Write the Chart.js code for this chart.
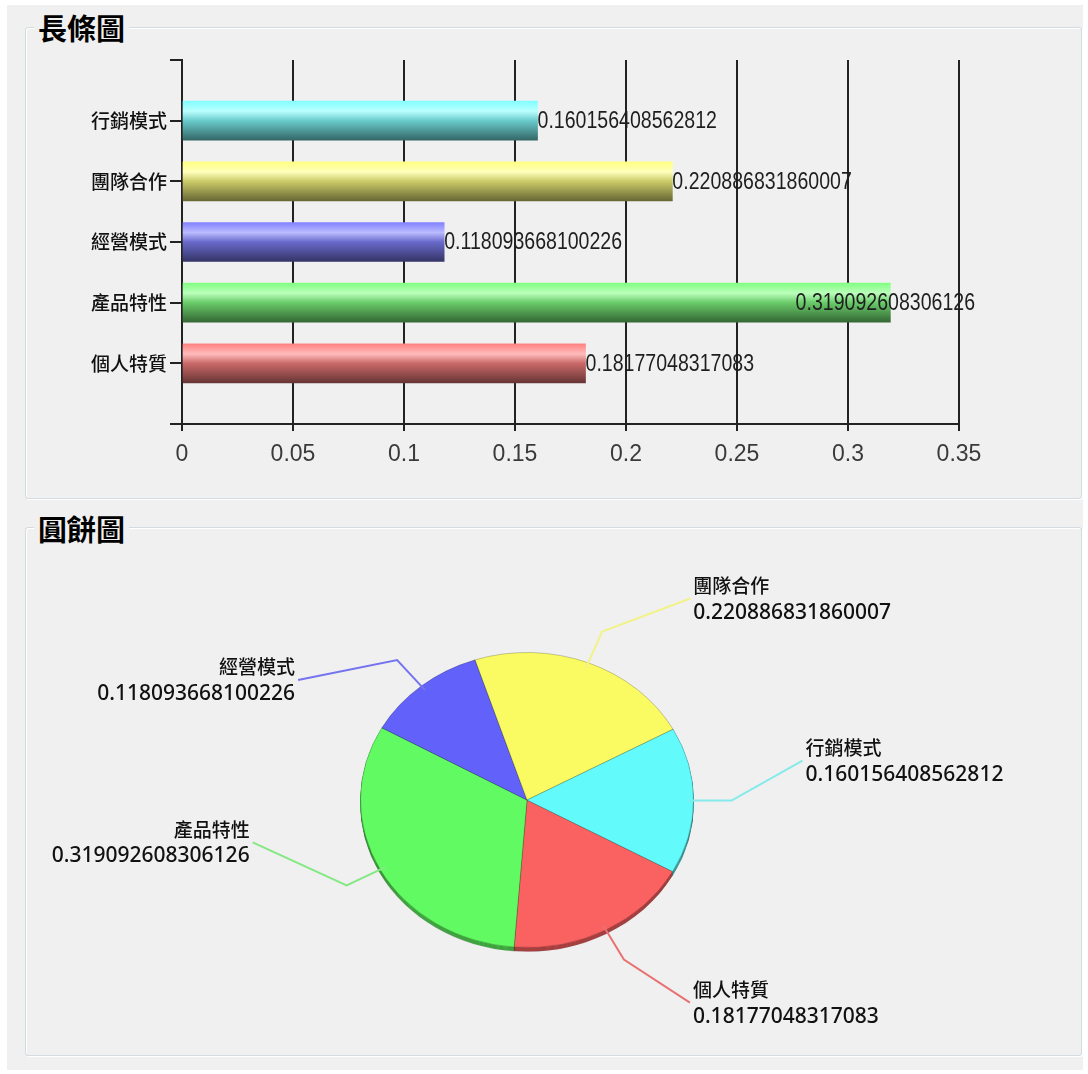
<!DOCTYPE html>
<html>
<head>
<meta charset="utf-8">
<script src="https://cdn.jsdelivr.net/npm/chart.js@4.4.1/dist/chart.umd.min.js"></script>
<style>
body { margin: 0; background: #fff; width: 1088px; height: 1074px; position: relative; overflow: hidden; }
#bg { position: absolute; left: 7px; top: 5px; width: 1076px; height: 1065px; background: #f0f0f0; }
.box { position: absolute; left: 25px; width: 1055px; border: 1px solid #d3dbe2; border-radius: 3px;
       box-shadow: inset 1px 1px 0 #fff, 1px 1px 0 #fff; }
#box1 { top: 27px; height: 470px; }
#box2 { top: 527px; height: 527px; }
.title { position: absolute; left: 34px; padding: 0 4px; background: #f0f0f0; color: #000;
         font: bold 29px/32px "Noto Sans CJK TC", sans-serif; }
canvas { position: absolute; left: 0; }
</style>
</head>
<body>
<div id="bg"></div>
<div class="box" id="box1"></div>
<div class="box" id="box2"></div>
<div class="title" style="top:11px">長條圖</div>
<div class="title" style="top:512px">圓餅圖</div>
<canvas id="barChart" width="1088" height="500" style="top:0"></canvas>
<canvas id="pieChart" width="1088" height="574" style="top:500px"></canvas>
<script>
// Data (bottom bar first)
const categories = ['個人特質', '產品特性', '經營模式', '團隊合作', '行銷模式'];
const values = [0.18177048317083, 0.319092608306126, 0.118093668100226, 0.220886831860007, 0.160156408562812];
const xTickLabels = ['0', '0.05', '0.1', '0.15', '0.2', '0.25', '0.3', '0.35'];

// Colours
const barTops = ['#ff8484', '#84ff84', '#8484ff', '#ffff84', '#84ffff'];
const barBottoms = ['#6a3636', '#366a36', '#36366a', '#6a6a36', '#366a6a'];
const pieColors = ['#fa6262', '#62fa62', '#6262fa', '#fafa62', '#62fafa'];
const leaderColors = ['#e87272', '#84e884', '#7474f0', '#f2f28a', '#84eaea'];

// blank slots above and below the bars
const yLabels = [''].concat(categories, ['']);
const barData = [null].concat(values, [null]);

function mix(a, b, t) {
    const pa = [1, 3, 5].map(i => parseInt(a.substr(i, 2), 16));
    const pb = [1, 3, 5].map(i => parseInt(b.substr(i, 2), 16));
    return 'rgb(' + pa.map((v, i) => Math.round(v + (pb[i] - v) * t)).join(',') + ')';
}

// Shaded bar fill
function barFill(context) {
    const chart = context.chart;
    const i = context.dataIndex - 1;
    if (i < 0 || i >= categories.length) return 'rgba(0,0,0,0)';
    const yScale = chart.scales.y;
    if (!yScale) return barTops[i];
    const c = yScale.getPixelForValue(context.dataIndex);
    const g = chart.ctx.createLinearGradient(0, c - 19, 0, c + 19);
    g.addColorStop(0, barTops[i]);
    g.addColorStop(0.25, mix(barTops[i], '#ffffff', 0.45));
    g.addColorStop(0.5, mix(barTops[i], barBottoms[i], 0.35));
    g.addColorStop(1, barBottoms[i]);
    return g;
}

const barValueLabels = {
    id: 'barValueLabels',
    afterDatasetsDraw(chart) {
        const { ctx, chartArea } = chart;
        const meta = chart.getDatasetMeta(0);
        ctx.save();
        ctx.font = '23px "Liberation Sans", Arial, sans-serif';
        ctx.fillStyle = '#1e1e1e';
        ctx.textBaseline = 'middle';
        ctx.textAlign = 'left';
        meta.data.forEach((bar, i) => {
            const v = barData[i];
            if (v == null) return;
            const text = String(v);
            const w = ctx.measureText(text).width * 0.85;
            let x = bar.x;
            if (x + w > chartArea.right + 16) x = chartArea.right + 16 - w;
            ctx.save();
            ctx.translate(x, bar.y + 1);
            ctx.scale(0.85, 1);
            ctx.fillText(text, 0, 0);
            ctx.restore();
        });
        ctx.restore();
    }
};

const axisFont = { family: '"Liberation Sans", Arial, sans-serif', size: 23 };

new Chart(document.getElementById('barChart'), {
    type: 'bar',
    data: {
        labels: yLabels,
        datasets: [{
            data: barData,
            backgroundColor: barFill,
            borderWidth: 0,
            barThickness: 39
        }]
    },
    options: {
        indexAxis: 'y',
        responsive: false,
        animation: false,
        events: [],
        layout: { padding: { left: 60, top: 60, right: 129, bottom: 26 } },
        plugins: { legend: { display: false }, tooltip: { enabled: false } },
        scales: {
            x: {
                type: 'linear',
                min: 0,
                max: 0.35,
                ticks: {
                    stepSize: 0.05,
                    color: '#3a3a3a',
                    font: axisFont,
                    padding: 10,
                    callback: (v, i) => xTickLabels[i]
                },
                grid: { color: '#222', lineWidth: 2, tickLength: 7 },
                border: { display: true, color: '#222', width: 2 },
                afterFit: s => { s.height = 50; }
            },
            y: {
                type: 'category',
                reverse: true,
                offset: false,
                ticks: {
                    autoSkip: false,
                    color: '#111',
                    padding: 3,
                    font: { family: '"Noto Sans CJK TC", sans-serif', size: 19, weight: '500' }
                },
                grid: { offset: false, drawOnChartArea: false, color: '#222', lineWidth: 2, tickLength: 12 },
                border: { display: true, color: '#222', width: 2 },
                afterFit: s => { s.width = 122; }
            }
        }
    },
    plugins: [barValueLabels]
});

// Pie: tilted with a shallow rim, labels on leader lines
const pieTilt = 0.886;
const pieDepth = 4;

function tilt(ctx, arc, dy) {
    ctx.translate(0, dy);
    ctx.translate(arc.x, arc.y);
    ctx.scale(1, pieTilt);
    ctx.translate(-arc.x, -arc.y);
}

const pie3d = {
    id: 'pie3d',
    beforeDatasetsDraw(chart) {
        const ctx = chart.ctx;
        const arcs = chart.getDatasetMeta(0).data;
        for (let d = pieDepth; d >= 1; d--) {
            ctx.save();
            tilt(ctx, arcs[0], d);
            ctx.filter = 'brightness(0.8)';
            arcs.forEach(a => a.draw(ctx));
            ctx.restore();
        }
        ctx.save();
        tilt(ctx, arcs[0], 0);
    },
    afterDatasetsDraw(chart, args, opts) {
        const ctx = chart.ctx;
        ctx.restore();
        const arcs = chart.getDatasetMeta(0).data;
        ctx.save();
        arcs.forEach((a, i) => {
            const mid = (a.startAngle + a.endAngle) / 2;
            const cos = Math.cos(mid), sin = Math.sin(mid);
            const r = a.outerRadius;
            const p0 = [a.x + (r - 6) * cos, a.y + (r - 6) * sin * pieTilt];
            const p1 = [a.x + (r + 38) * cos, a.y + (r + 38) * sin * pieTilt];
            const off = opts.offsets[i];
            const p2 = [p1[0] + off[0], p1[1] + off[1]];
            ctx.strokeStyle = leaderColors[i];
            ctx.lineWidth = 2;
            ctx.beginPath();
            ctx.moveTo(p0[0], p0[1]);
            ctx.lineTo(p1[0], p1[1]);
            ctx.lineTo(p2[0], p2[1]);
            ctx.stroke();

            const right = off[0] > 0;
            const tx = p2[0] + (right ? 3 : -3);
            ctx.textAlign = right ? 'left' : 'right';
            ctx.textBaseline = 'middle';
            ctx.fillStyle = '#111';
            ctx.font = '500 19px "Noto Sans CJK TC", sans-serif';
            ctx.fillText(categories[i], tx, p2[1] - 13);
            ctx.font = '500 21px "Noto Sans", sans-serif';
            ctx.fillText(String(values[i]), tx, p2[1] + 14);
        });
        ctx.restore();
    }
};

new Chart(document.getElementById('pieChart'), {
    type: 'pie',
    data: {
        labels: categories,
        datasets: [{
            data: values,
            backgroundColor: pieColors,
            borderColor: 'rgba(0,0,0,0.22)',
            borderWidth: 1
        }]
    },
    options: {
        responsive: false,
        animation: false,
        events: [],
        rotation: 119,
        layout: { padding: { left: 360, right: 394, top: 133, bottom: 107 } },
        plugins: {
            legend: { display: false },
            tooltip: { enabled: false },
            pie3d: { offsets: [[66, 43], [-94, -43], [-99, 20], [88, -33], [71, -40]] }
        }
    },
    plugins: [pie3d]
});
</script>
</body>
</html>
